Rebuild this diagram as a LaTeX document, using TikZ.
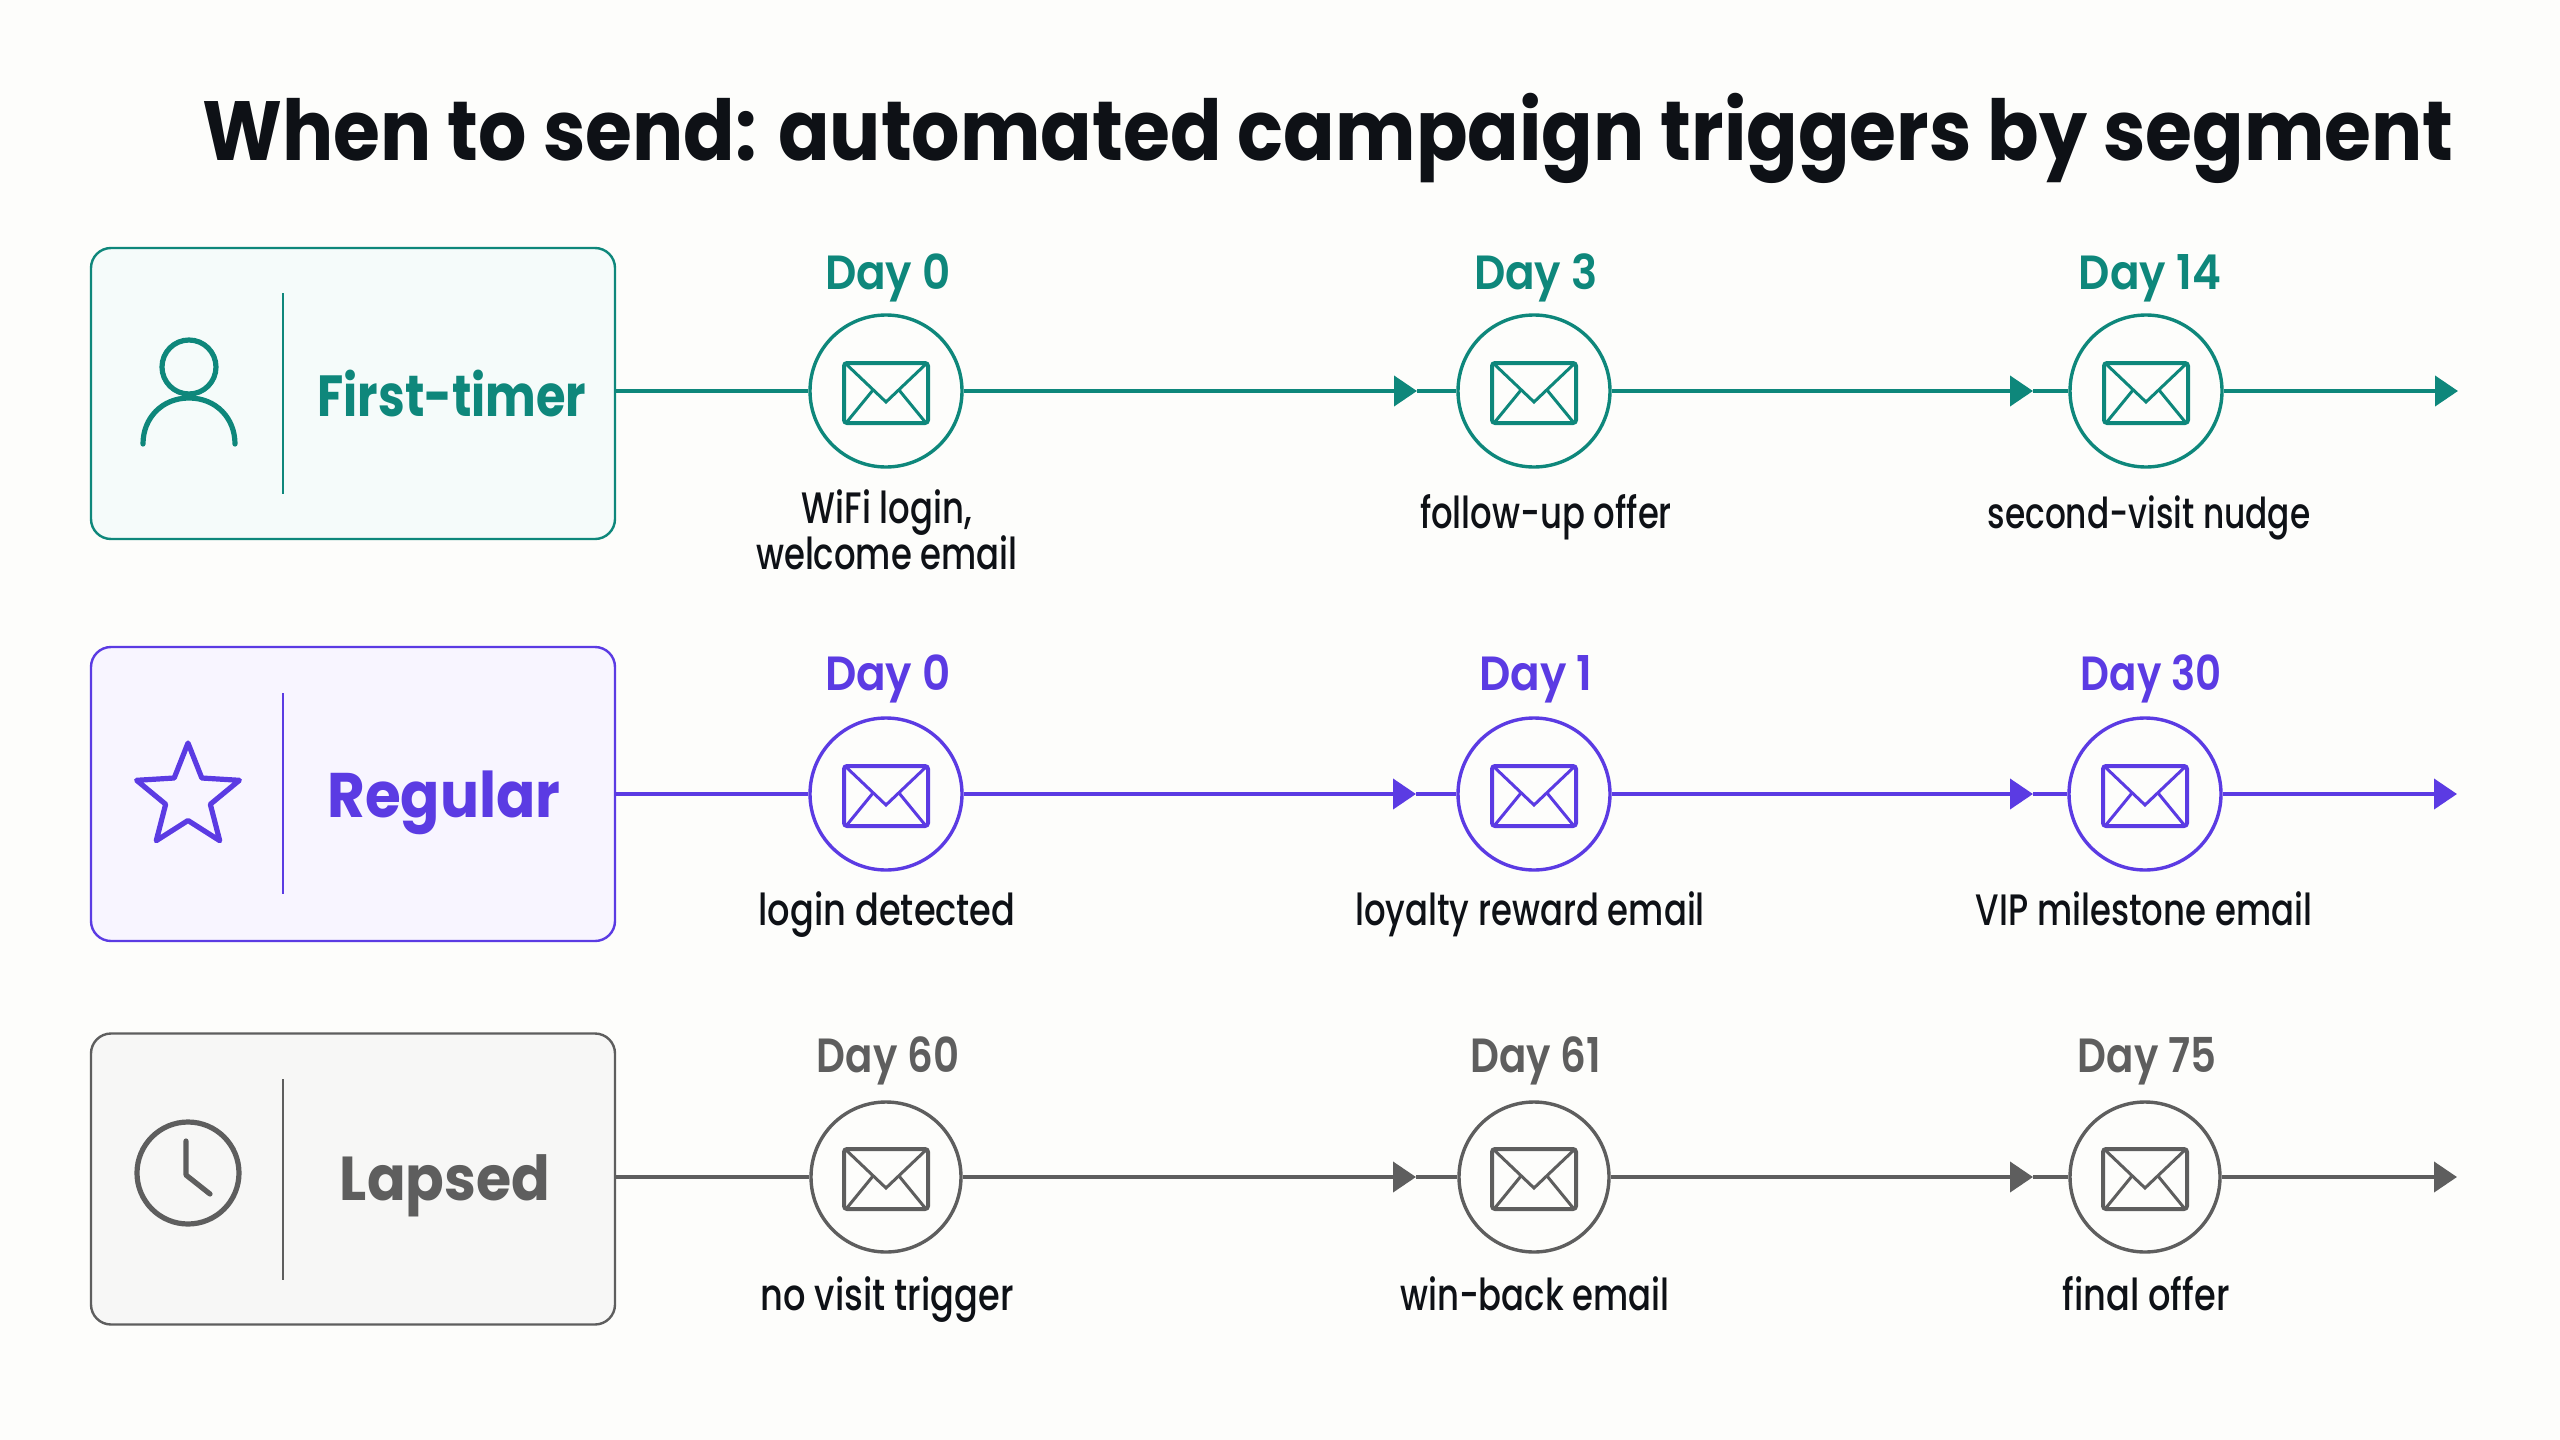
\documentclass[tikz,border=0pt]{standalone}
\usepackage{fontspec}
\setmainfont{Poppins}
\newfontfamily\titlefont[FakeStretch=.905]{Poppins}
\newfontfamily\segfont[FakeStretch=.92]{Poppins}
\newfontfamily\firstfont[FakeStretch=.825]{Poppins}
\newfontfamily\dayfont[FakeStretch=.91]{Poppins SemiBold}
\newfontfamily\lapsedayfont[FakeStretch=.84]{Poppins SemiBold}
\newfontfamily\notefont[FakeStretch=.77]{Poppins Medium}
\newfontfamily\widenotefont[FakeStretch=.8]{Poppins Medium}
\usetikzlibrary{arrows.meta,shapes.geometric,calc}
\definecolor{paper}{HTML}{FDFDFB}
\definecolor{ink}{HTML}{0E1116}
\definecolor{tealcol}{HTML}{0E877B}
\definecolor{tealfill}{HTML}{F5FBFA}
\definecolor{violetcol}{HTML}{5B3BE3}
\definecolor{violetfill}{HTML}{F8F5FF}
\definecolor{greycol}{HTML}{5E5E5E}
\definecolor{greyfill}{HTML}{F7F7F6}

\begin{document}
\begin{tikzpicture}[x=.5pt,y=-.5pt,node distance=59pt]
        \tikzstyle{segbox}=[rectangle,rounded corners=10pt,draw=seg,fill=segfill,line width=1.2pt,minimum width=262pt,minimum height=145.5pt]
        \tikzstyle{seglabel}=[text=seg,font=\segfont\bfseries\fontsize{31}{36}\selectfont,inner sep=0pt]
        \tikzstyle{mail}=[circle,draw=seg,line width=1.7pt,minimum size=76pt,inner sep=0pt,
            path picture={\begin{scope}[shift={(path picture bounding box.center)},draw=seg,line width=1.5pt]
                \draw[line width=2pt,rounded corners=1.5pt] (-42,-28) rectangle (42,32);
                \draw (-41,-28) -- (0,11) -- (41,-28);
                \draw (-40,32) -- (-13,-1);
                \draw (40,32) -- (13,-1);
            \end{scope}}]
        \tikzstyle{daylabel}=[text=seg,font=\dayfont\fontsize{24}{28}\selectfont,inner sep=0pt,text height=18pt,text depth=5pt,xshift=1pt]
        \tikzstyle{note}=[text=ink,font=\notefont\fontsize{22}{23}\selectfont,inner sep=0pt,align=center,text height=16pt,text depth=5pt]
        \tikzstyle{flow}=[draw=seg,line width=2pt]
        \tikzstyle{flowtip}=[flow,-{Triangle[length=11.5pt,width=15pt]}]
        \tikzstyle{rule}=[draw=seg,line width=.8pt]
        \tikzstyle{icon}=[draw=seg,line width=2.6pt,line cap=round,line join=round]

        \fill[paper] (0,0) rectangle (2560,1440);
        \useasboundingbox (0,0) rectangle (2560,1440);

        \node [anchor=base,text=ink,font=\titlefont\bfseries\fontsize{42}{50}\selectfont,inner sep=0pt] (title) at (1328,160) {When to send: automated campaign triggers by segment};

        % first row
        \begin{scope}
        \colorlet{seg}{tealcol}\colorlet{segfill}{tealfill}
        \node [segbox] (first) at (353,393.5) {};
        \coordinate (firsttop) at (283,293);
        \coordinate (firstbot) at (283,494);
        \draw [rule] (firsttop) -- (firstbot);
        \node [circle,icon,inner sep=0pt,minimum size=27pt] (head) at (189,367) {};
        \coordinate (shl) at (143,444);
        \coordinate (shr) at (235,444);
        \draw [icon] (shl) .. controls (143,418) and (162,398) .. (189,398) .. controls (216,398) and (235,418) .. (shr);
        \node [seglabel,font=\firstfont\bfseries\fontsize{29}{34}\selectfont] (firstname) at (452,393) {First-timer};

        \node [mail] (f1) at (886,391) {};
        \node [mail] (f2) at (1534,391) {};
        \node [mail] (f3) at (2146,391) {};
        \coordinate (f2tip) at (1417,391);
        \coordinate (f3tip) at (2033,391);
        \coordinate (fend) at (2458,391);
        \draw [flow] (first.east |- f1) -- (f1);
        \draw [flowtip] (f1) -- (f2tip);
        \draw [flow] (f2tip) -- (f2);
        \draw [flowtip] (f2) -- (f3tip);
        \draw [flow] (f3tip) -- (f3);
        \draw [flowtip] (f3) -- (fend);

        \node [daylabel,yshift=-1.5pt] (f1day) [above of=f1] {Day 0};
        \node [daylabel,yshift=-1.5pt] (f2day) [above of=f2] {Day 3};
        \node [daylabel,yshift=-1.5pt,xshift=1pt] (f3day) [above of=f3] {Day 14};
        \node [note,text height=,text depth=] (f1note) at (887,530) {WiFi login,\\welcome email};
        \node [note] (f2note) at (1546,517) {follow-up offer};
        \node [note,font=\notefont\fontsize{21.3}{23}\selectfont] (f3note) at (2149,517) {second-visit nudge};
        \end{scope}

        % second row
        \begin{scope}
        \colorlet{seg}{violetcol}\colorlet{segfill}{violetfill}
        \node [segbox,minimum height=147pt] (regular) at (353,794) {};
        \coordinate (regulartop) at (283,693);
        \coordinate (regularbot) at (283,894);
        \draw [rule] (regulartop) -- (regularbot);
        \node [star,star points=5,star point ratio=2.3,icon,inner sep=0pt,minimum size=54pt] (staricon) at (188,797) {};
        \node [seglabel,font=\segfont\bfseries\fontsize{31.5}{36}\selectfont] (regularname) at (444,803) {Regular};

        \node [mail] (r1) at (886,794) {};
        \node [mail] (r2) at (1534,794) {};
        \node [mail] (r3) at (2145,794) {};
        \coordinate (r2tip) at (1416,794);
        \coordinate (r3tip) at (2033,794);
        \coordinate (rend) at (2457,794);
        \draw [flow] (regular.east |- r1) -- (r1);
        \draw [flowtip] (r1) -- (r2tip);
        \draw [flow] (r2tip) -- (r2);
        \draw [flowtip] (r2) -- (r3tip);
        \draw [flow] (r3tip) -- (r3);
        \draw [flowtip] (r3) -- (rend);

        \node [daylabel,yshift=-.7pt] (r1day) [above of=r1] {Day 0};
        \node [daylabel,yshift=-.7pt] (r2day) [above of=r2] {Day 1};
        \node [daylabel,yshift=-.7pt,xshift=2pt,font=\lapsedayfont\fontsize{24}{28}\selectfont] (r3day) [above of=r3] {Day 30};
        \node [note,font=\widenotefont\fontsize{22}{23}\selectfont] (r1note) at (887,914) {login detected};
        \node [note] (r2note) at (1530,914) {loyalty reward email};
        \node [note] (r3note) at (2144,914) {VIP milestone email};
        \end{scope}

        % third row
        \begin{scope}
        \colorlet{seg}{greycol}\colorlet{segfill}{greyfill}
        \tikzstyle{daylabel}=[text=seg,font=\lapsedayfont\fontsize{24}{28}\selectfont,inner sep=0pt,text height=18pt,text depth=5pt,xshift=1pt]
        \node [segbox] (lapsed) at (353,1179) {};
        \coordinate (lapsedtop) at (283,1079);
        \coordinate (lapsedbot) at (283,1280);
        \draw [rule] (lapsedtop) -- (lapsedbot);
        \node [circle,icon,inner sep=0pt,minimum size=51pt] (clock) at (188,1173) {};
        \coordinate (clockup) at (186,1141);
        \coordinate (clockmid) at (186,1175);
        \coordinate (clockdn) at (210,1194);
        \draw [icon] (clockup) -- (clockmid) -- (clockdn);
        \node [seglabel] (lapsedname) at (445,1186) {Lapsed};

        \node [mail,minimum size=75pt] (l1) at (886,1177) {};
        \node [mail,minimum size=75pt] (l2) at (1534,1177) {};
        \node [mail,minimum size=75pt] (l3) at (2145,1177) {};
        \coordinate (l2tip) at (1416,1177);
        \coordinate (l3tip) at (2033,1177);
        \coordinate (lend) at (2457,1177);
        \draw [flow] (lapsed.east |- l1) -- (l1);
        \draw [flowtip] (l1) -- (l2tip);
        \draw [flow] (l2tip) -- (l2);
        \draw [flowtip] (l2) -- (l3tip);
        \draw [flow] (l3tip) -- (l3);
        \draw [flowtip] (l3) -- (lend);

        \node [daylabel] (l1day) [above of=l1] {Day 60};
        \node [daylabel] (l2day) [above of=l2] {Day 61};
        \node [daylabel] (l3day) [above of=l3] {Day 75};
        \node [note,font=\widenotefont\fontsize{22}{23}\selectfont] (l1note) at (887,1299) {no visit trigger};
        \node [note] (l2note) at (1535,1299) {win-back email};
        \node [note,font=\widenotefont\fontsize{22}{23}\selectfont] (l3note) at (2146,1299) {final offer};
        \end{scope}
    \end{tikzpicture}
\end{document}
